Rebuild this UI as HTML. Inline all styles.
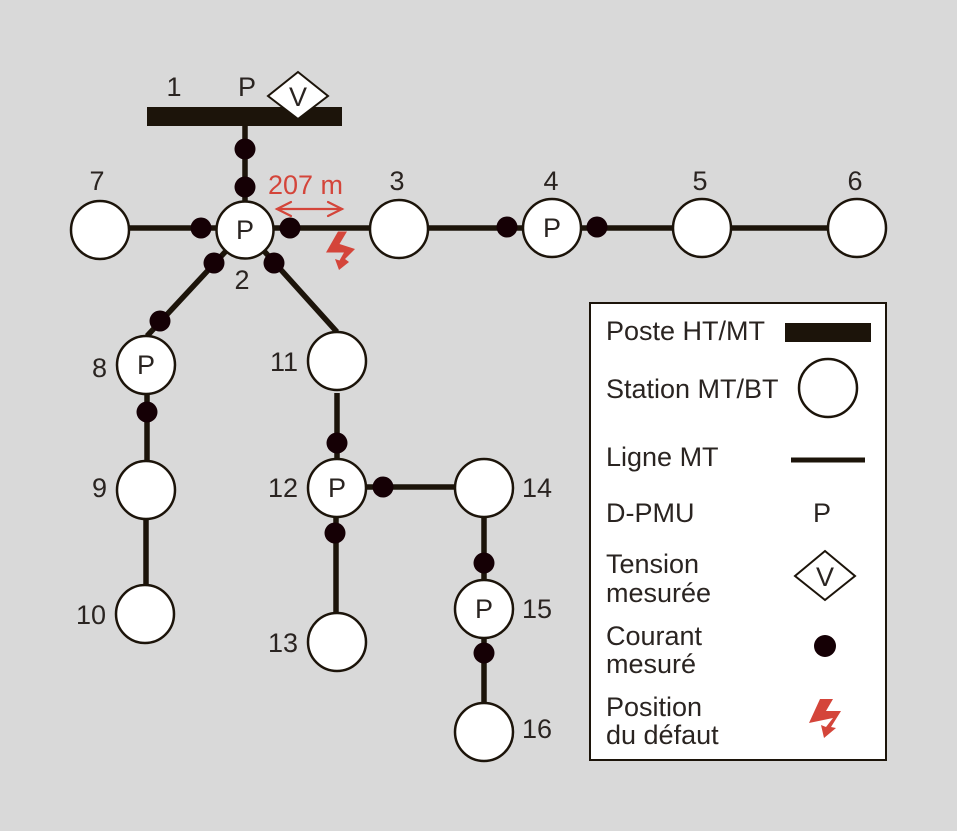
<!DOCTYPE html>
<html><head><meta charset="utf-8"><style>
html,body{margin:0;padding:0;background:#d9d9d9;}
svg{display:block;}
text{font-family:"Liberation Sans",sans-serif;font-size:27px;fill:#2a2421;}
</style></head><body>
<svg width="957" height="831" viewBox="0 0 957 831" xmlns="http://www.w3.org/2000/svg">
<rect x="0" y="0" width="957" height="831" fill="#d9d9d9"/>

<!-- lines -->
<g stroke="#1c140a" stroke-width="5.5" fill="none">
  <line x1="245" y1="126" x2="245" y2="202"/>
  <line x1="129" y1="228" x2="217" y2="228"/>
  <line x1="273" y1="228" x2="371" y2="228"/>
  <line x1="428" y1="228" x2="828" y2="228"/>
  <line x1="226" y1="251" x2="147" y2="336"/>
  <line x1="264" y1="251" x2="337" y2="332"/>
  <line x1="147" y1="394" x2="147" y2="461"/>
  <line x1="146" y1="519" x2="146" y2="585"/>
  <line x1="337" y1="393" x2="337" y2="459"/>
  <line x1="336" y1="517" x2="336" y2="613"/>
  <line x1="366" y1="487" x2="455" y2="487"/>
  <line x1="484" y1="517" x2="484" y2="580"/>
  <line x1="484" y1="638" x2="484" y2="703"/>
</g>

<!-- bar -->
<rect x="147" y="107" width="195" height="19" fill="#1c140a"/>

<!-- diamond -->
<polygon points="298,72 328,96 298,119 268,96" fill="#fff" stroke="#1c140a" stroke-width="2"/>
<text x="298" y="106" text-anchor="middle">V</text>

<!-- nodes -->
<g fill="#fff" stroke="#1c140a" stroke-width="2.5">
  <circle cx="100" cy="230" r="29"/>
  <circle cx="245" cy="230" r="28.5"/>
  <circle cx="399" cy="229" r="29"/>
  <circle cx="552" cy="228" r="29"/>
  <circle cx="702" cy="228" r="29"/>
  <circle cx="857" cy="228" r="29"/>
  <circle cx="146" cy="365" r="29"/>
  <circle cx="146" cy="490" r="29"/>
  <circle cx="145" cy="614" r="29"/>
  <circle cx="337" cy="361" r="29"/>
  <circle cx="337" cy="488" r="29"/>
  <circle cx="337" cy="642" r="29"/>
  <circle cx="484" cy="488" r="29"/>
  <circle cx="484" cy="609" r="29"/>
  <circle cx="484" cy="732" r="29"/>
</g>

<!-- dots -->
<g fill="#150005">
  <circle cx="245" cy="149" r="10.5"/>
  <circle cx="245" cy="187" r="10.5"/>
  <circle cx="201" cy="228" r="10.5"/>
  <circle cx="290" cy="228" r="10.5"/>
  <circle cx="214" cy="263" r="10.5"/>
  <circle cx="274" cy="263" r="10.5"/>
  <circle cx="507" cy="227" r="10.5"/>
  <circle cx="597" cy="227" r="10.5"/>
  <circle cx="160" cy="321" r="10.5"/>
  <circle cx="147" cy="412" r="10.5"/>
  <circle cx="337" cy="443" r="10.5"/>
  <circle cx="335" cy="533" r="10.5"/>
  <circle cx="383" cy="487" r="10.5"/>
  <circle cx="484" cy="563" r="10.5"/>
  <circle cx="484" cy="653" r="10.5"/>
</g>

<!-- P labels in nodes -->
<g text-anchor="middle">
  <text x="245" y="239">P</text>
  <text x="552" y="237">P</text>
  <text x="146" y="374">P</text>
  <text x="337" y="497">P</text>
  <text x="484" y="618">P</text>
  <text x="247" y="96">P</text>
</g>

<!-- number labels -->
<g text-anchor="middle">
  <text x="174" y="96">1</text>
  <text x="97" y="190">7</text>
  <text x="242" y="289">2</text>
  <text x="397" y="190">3</text>
  <text x="551" y="190">4</text>
  <text x="700" y="190">5</text>
  <text x="855" y="190">6</text>
</g>
<g text-anchor="end">
  <text x="107" y="377">8</text>
  <text x="107" y="497">9</text>
  <text x="106" y="624">10</text>
  <text x="298" y="371">11</text>
  <text x="298" y="497">12</text>
  <text x="298" y="652">13</text>
</g>
<g>
  <text x="522" y="497">14</text>
  <text x="522" y="618">15</text>
  <text x="522" y="738">16</text>
</g>

<!-- distance arrow -->
<text x="268" y="194" style="fill:#d4453a">207 m</text>
<g stroke="#d4453a" stroke-width="2.2" fill="none" stroke-linecap="round">
  <line x1="277" y1="209" x2="342" y2="209"/>
  <polyline points="291,202 277,209 291,216"/>
  <polyline points="328,202 342,209 328,216"/>
</g>

<!-- fault bolt -->
<polygon fill="#d4453a" points="338,231.5 347,231.5 339.5,244 355,249 345,259 349,262 339,270 335,259 339.5,260.5 344,252.5 326,252.5"/>

<!-- legend -->
<rect x="590" y="303" width="296" height="457" fill="#fff" stroke="#1c140a" stroke-width="2"/>
<text x="606" y="340">Poste HT/MT</text>
<rect x="785" y="323" width="86" height="19" fill="#1c140a"/>
<text x="606" y="398">Station MT/BT</text>
<circle cx="828" cy="388" r="29" fill="#fff" stroke="#1c140a" stroke-width="2.5"/>
<text x="606" y="466">Ligne MT</text>
<line x1="791" y1="460" x2="865" y2="460" stroke="#1c140a" stroke-width="5"/>
<text x="606" y="522">D-PMU</text>
<text x="822" y="522" text-anchor="middle">P</text>
<text x="606" y="573">Tension</text>
<text x="606" y="602">mesurée</text>
<polygon points="825,551 855,576 825,600 795,576" fill="#fff" stroke="#1c140a" stroke-width="2"/>
<text x="825" y="586" text-anchor="middle">V</text>
<text x="606" y="645">Courant</text>
<text x="606" y="673">mesuré</text>
<circle cx="825" cy="646" r="11" fill="#150005"/>
<text x="606" y="716">Position</text>
<text x="606" y="744">du défaut</text>
<polygon fill="#d4453a" points="820,699 833,699 826,711 841,711 831,727 836,728 824,738 821,725 826,727 833,718 809,723"/>
</svg>
</body></html>
